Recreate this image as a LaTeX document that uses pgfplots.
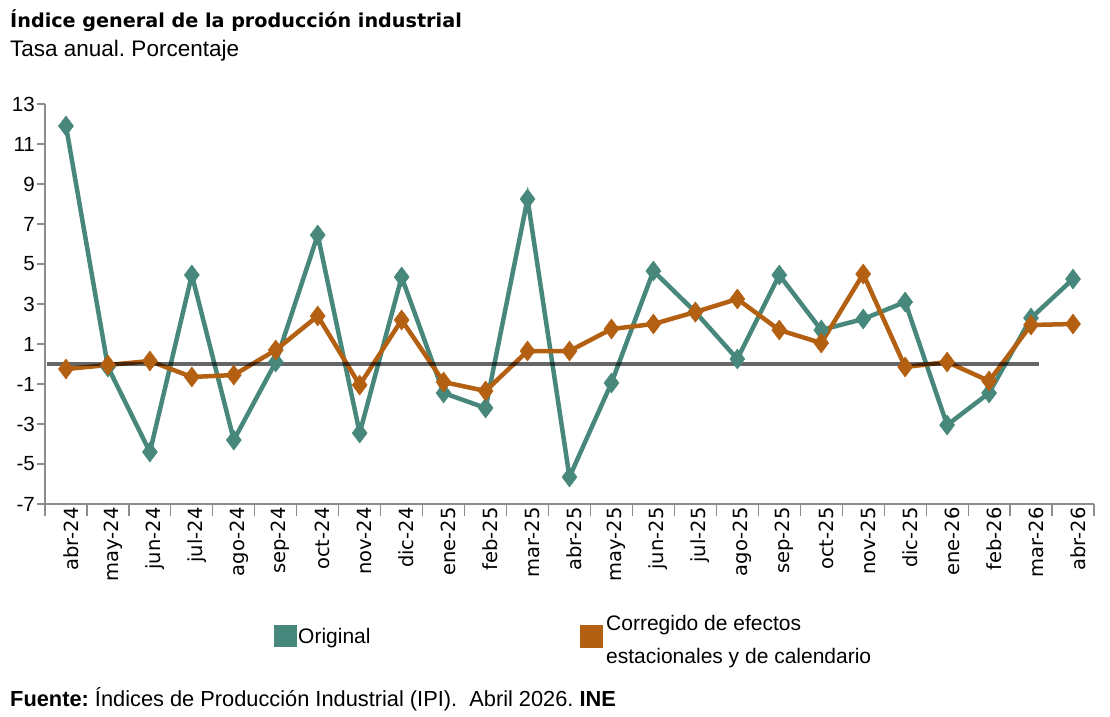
\documentclass[border=0pt]{standalone}
\usepackage{pgfplots}
\pgfplotsset{compat=1.18}
\usepackage{fontspec}
\setmainfont{Liberation Sans}
\newfontfamily\djv{DejaVu Sans}
\definecolor{tealc}{RGB}{72,136,124}
\definecolor{orangec}{RGB}{180,96,18}
\definecolor{axgray}{RGB}{140,140,140}
\frenchspacing
\begin{document}
\begin{tikzpicture}[x=1pt,y=1pt]
\path[use as bounding box] (0,0) rectangle (1110,-716);
\node[anchor=base west,inner sep=0pt,font=\djv\bfseries\fontsize{19.2}{22}\selectfont] at (10,-27) {Índice general de la producción industrial};
\node[anchor=base west,inner sep=0pt,font=\fontsize{22.5}{26}\selectfont] at (10,-56) {Tasa anual. Porcentaje};
\begin{axis}[
  at={(45pt,-504pt)}, anchor=south west,
  scale only axis, width=1049pt, height=400pt,
  xmin=-0.5, xmax=24.5, ymin=-7, ymax=13,
  axis x line*=bottom, axis y line*=left,
  axis line style={axgray, line width=1.2pt},
  xtick={0,...,24},
  xticklabels={abr-24,may-24,jun-24,jul-24,ago-24,sep-24,oct-24,nov-24,dic-24,ene-25,feb-25,mar-25,abr-25,may-25,jun-25,jul-25,ago-25,sep-25,oct-25,nov-25,dic-25,ene-26,feb-26,mar-26,abr-26},
  major x tick style={draw=none},
  minor xtick={-0.5,0.5,...,24.5},
  minor x tick style={draw=axgray, line width=1.2pt},
  tick align=outside,
  minor tick length=12pt,
  major tick length=8pt,
  xticklabel style={rotate=90, anchor=east, font=\djv\fontsize{19.5}{21}\selectfont, xshift=8pt, yshift=-5pt},
  ytick={-7,-5,...,13},
  yticklabels={-7,-5,-3,-1,1,3,5,7,9,11,13},
  y tick style={draw=axgray, line width=1.2pt},
  yticklabel style={font=\fontsize{20.5}{22}\selectfont, inner xsep=2pt},
  clip=false,
]
\addplot[tealc, line width=4.5pt, mark=diamond*, mark size=10pt, mark options={fill=tealc, draw=tealc, line width=0.5pt}] coordinates {
(0,11.9) (1,-0.15) (2,-4.4) (3,4.45) (4,-3.8) (5,0.1) (6,6.45) (7,-3.45) (8,4.35) (9,-1.45) (10,-2.2) (11,8.25) (12,-5.65) (13,-0.95) (14,4.65) (15,2.6) (16,0.25) (17,4.45) (18,1.7) (19,2.25) (20,3.1) (21,-3.05) (22,-1.45) (23,2.3) (24,4.25)
};
\addplot[orangec, line width=4.5pt, mark=diamond*, mark size=10pt, mark options={fill=orangec, draw=orangec, line width=0.5pt}] coordinates {
(0,-0.25) (1,-0.05) (2,0.15) (3,-0.65) (4,-0.55) (5,0.7) (6,2.4) (7,-1.05) (8,2.2) (9,-0.9) (10,-1.35) (11,0.65) (12,0.65) (13,1.75) (14,2.0) (15,2.6) (16,3.25) (17,1.7) (18,1.05) (19,4.5) (20,-0.15) (21,0.1) (22,-0.85) (23,1.95) (24,2.0)
};
\addplot[black, opacity=0.6, line width=3.5pt, forget plot] coordinates {(-0.45,0) (23.2,0)};
\end{axis}
\fill[tealc] (274,-625) rectangle (297,-647);
\node[anchor=base west,inner sep=0pt,font=\fontsize{21}{24}\selectfont] at (298,-643) {Original};
\fill[orangec] (580,-625) rectangle (603,-648);
\node[anchor=base west,inner sep=0pt,font=\fontsize{21}{24}\selectfont] at (606,-630) {Corregido de efectos};
\node[anchor=base west,inner sep=0pt,font=\fontsize{21}{24}\selectfont] at (606,-663) {estacionales y de calendario};
\node[anchor=base west,inner sep=0pt,font=\fontsize{21.8}{24}\selectfont] at (10,-706) {\textbf{Fuente:} Índices de Producción Industrial (IPI).\ \ Abril 2026. \textbf{INE}};
\end{tikzpicture}
\end{document}
